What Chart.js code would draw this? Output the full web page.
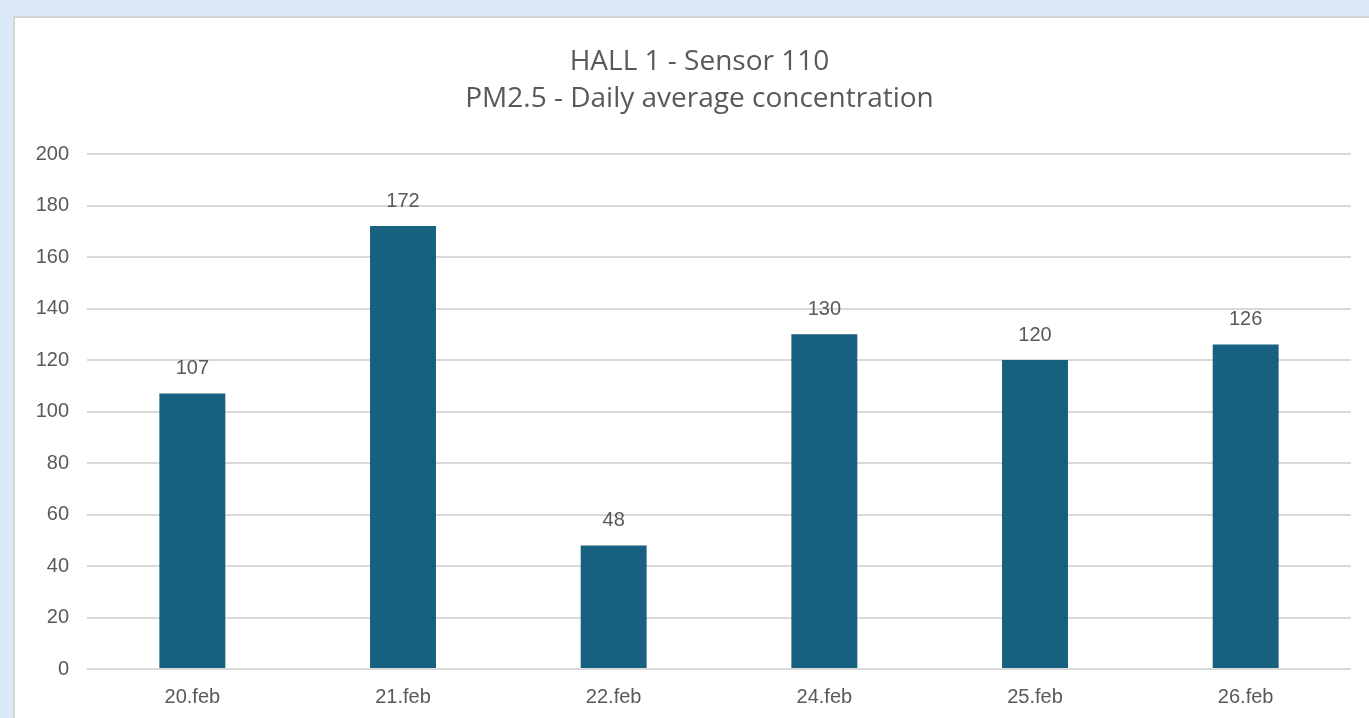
<!DOCTYPE html>
<html>
<head>
<meta charset="utf-8">
<script src="https://cdn.jsdelivr.net/npm/chart.js@4/dist/chart.umd.min.js"></script>
<style>
  html, body { margin: 0; padding: 0; width: 1369px; height: 718px; overflow: hidden; background: #dce9f6; }
  #panel { position: absolute; left: 13px; top: 16px; width: 1400px; height: 760px; background: #fff; border: 2px solid #d6d6d6; }
  #wrap { position: absolute; left: 0; top: 0; width: 1369px; height: 718px; }
</style>
</head>
<body>
<div id="panel"></div>
<div id="wrap"><canvas id="chart"></canvas></div>
<script>
// DATOS
const dias = ['20.feb', '21.feb', '22.feb', '24.feb', '25.feb', '26.feb'];
const pm25 = [107, 172, 48, 130, 120, 126];
const tituloLineas = ['HALL 1 - Sensor 110', 'PM2.5 - Daily average concentration'];

const textColor = '#595959';
const gridColor = '#d9d9d9';
const fuenteEjes = "'Liberation Sans', Arial, sans-serif";

// titulo centrado sobre el panel (no sobre el area del canvas)
const tituloPanel = {
    id: 'tituloPanel',
    afterDraw(chart) {
        const ctx = chart.ctx;
        ctx.save();
        ctx.fillStyle = textColor;
        ctx.font = "28px 'Open Sans', sans-serif";
        ctx.textAlign = 'center';
        ctx.textBaseline = 'middle';
        const cx = chart.width / 2 + 15;
        tituloLineas.forEach((linea, i) => {
            ctx.fillText(linea, cx, 62 + i * 37);
        });
        ctx.restore();
    }
};

// etiquetas de valor encima de cada barra
const valueLabels = {
    id: 'valueLabels',
    afterDatasetsDraw(chart) {
        const ctx = chart.ctx;
        const meta = chart.getDatasetMeta(0);
        ctx.save();
        ctx.fillStyle = textColor;
        ctx.font = "20px " + fuenteEjes;
        ctx.textAlign = 'center';
        ctx.textBaseline = 'middle';
        meta.data.forEach((bar, i) => {
            ctx.fillText(String(pm25[i]), bar.x, bar.y - 25);
        });
        ctx.restore();
    }
};

new Chart(document.getElementById('chart'), {
    type: 'bar',
    data: {
        labels: dias,
        datasets: [{
            data: pm25,
            backgroundColor: '#17607f',
            categoryPercentage: 1,
            barPercentage: 0.313
        }]
    },
    options: {
        responsive: true,
        maintainAspectRatio: false,
        animation: false,
        layout: { padding: { left: 0, right: 18, top: 154, bottom: 0 } },
        plugins: {
            legend: { display: false },
            tooltip: { enabled: false },
            title: { display: false }
        },
        scales: {
            y: {
                min: 0,
                max: 200,
                ticks: {
                    stepSize: 20,
                    color: textColor,
                    padding: 18,
                    font: { family: fuenteEjes, size: 20 }
                },
                grid: { color: gridColor, lineWidth: 2, drawTicks: false },
                border: { display: false },
                afterFit(scale) { scale.width = 87; }
            },
            x: {
                ticks: {
                    color: textColor,
                    padding: 16,
                    font: { family: fuenteEjes, size: 20 }
                },
                grid: { display: false, drawTicks: false },
                border: { display: false },
                afterFit(scale) { scale.height = 49; }
            }
        }
    },
    plugins: [valueLabels, tituloPanel]
});
</script>
</body>
</html>
